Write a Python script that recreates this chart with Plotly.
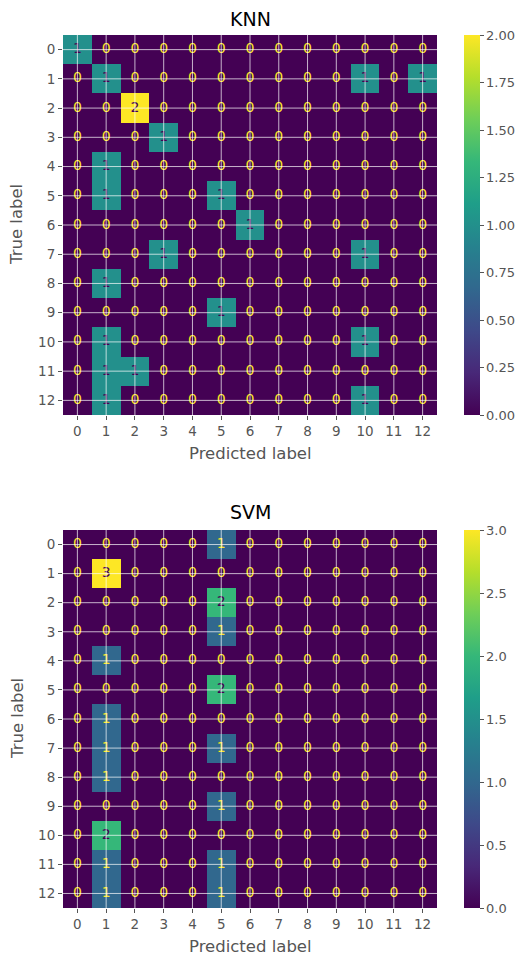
import plotly.graph_objects as go

labels = list(range(13))

knn_cm = [
    [1, 0, 0, 0, 0, 0, 0, 0, 0, 0, 0, 0, 0],
    [0, 1, 0, 0, 0, 0, 0, 0, 0, 0, 1, 0, 1],
    [0, 0, 2, 0, 0, 0, 0, 0, 0, 0, 0, 0, 0],
    [0, 0, 0, 1, 0, 0, 0, 0, 0, 0, 0, 0, 0],
    [0, 1, 0, 0, 0, 0, 0, 0, 0, 0, 0, 0, 0],
    [0, 1, 0, 0, 0, 1, 0, 0, 0, 0, 0, 0, 0],
    [0, 0, 0, 0, 0, 0, 1, 0, 0, 0, 0, 0, 0],
    [0, 0, 0, 1, 0, 0, 0, 0, 0, 0, 1, 0, 0],
    [0, 1, 0, 0, 0, 0, 0, 0, 0, 0, 0, 0, 0],
    [0, 0, 0, 0, 0, 1, 0, 0, 0, 0, 0, 0, 0],
    [0, 1, 0, 0, 0, 0, 0, 0, 0, 0, 1, 0, 0],
    [0, 1, 1, 0, 0, 0, 0, 0, 0, 0, 0, 0, 0],
    [0, 1, 0, 0, 0, 0, 0, 0, 0, 0, 1, 0, 0],
]

svm_cm = [
    [0, 0, 0, 0, 0, 1, 0, 0, 0, 0, 0, 0, 0],
    [0, 3, 0, 0, 0, 0, 0, 0, 0, 0, 0, 0, 0],
    [0, 0, 0, 0, 0, 2, 0, 0, 0, 0, 0, 0, 0],
    [0, 0, 0, 0, 0, 1, 0, 0, 0, 0, 0, 0, 0],
    [0, 1, 0, 0, 0, 0, 0, 0, 0, 0, 0, 0, 0],
    [0, 0, 0, 0, 0, 2, 0, 0, 0, 0, 0, 0, 0],
    [0, 1, 0, 0, 0, 0, 0, 0, 0, 0, 0, 0, 0],
    [0, 1, 0, 0, 0, 1, 0, 0, 0, 0, 0, 0, 0],
    [0, 1, 0, 0, 0, 0, 0, 0, 0, 0, 0, 0, 0],
    [0, 0, 0, 0, 0, 1, 0, 0, 0, 0, 0, 0, 0],
    [0, 2, 0, 0, 0, 0, 0, 0, 0, 0, 0, 0, 0],
    [0, 1, 0, 0, 0, 1, 0, 0, 0, 0, 0, 0, 0],
    [0, 1, 0, 0, 0, 1, 0, 0, 0, 0, 0, 0, 0],
]

knn_cbar_ticks = [0.0, 0.25, 0.5, 0.75, 1.0, 1.25, 1.5, 1.75, 2.0]
svm_cbar_ticks = [0.0, 0.5, 1.0, 1.5, 2.0, 2.5, 3.0]

OFF = 8  # default page body margin
W, H = 531 - OFF, 957 - OFF
FONT = "DejaVu Sans"
GRAY = "#555555"
VIRIDIS_MIN = "#440154"
VIRIDIS_MAX = "#fde725"


def px_x(v):
    return (v - OFF) / W


def px_y(v):
    return 1 - (v - OFF) / H


panels = [
    dict(name="KNN", cm=knn_cm, ticks=knn_cbar_ticks, fmt=".2f",
         top=35, bottom=415, title_y=19, xlabel_y=453, xa="x", ya="y"),
    dict(name="SVM", cm=svm_cm, ticks=svm_cbar_ticks, fmt=".1f",
         top=530, bottom=908, title_y=512, xlabel_y=946, xa="x2", ya="y2"),
]

left_px, right_px = 63, 437
cbar_left = 464
fig = go.Figure()
annotations = []
shapes = []

for p in panels:
    cm = p["cm"]
    zmax = max(max(r) for r in cm)
    zmin = min(min(r) for r in cm)
    thresh = (zmax + zmin) / 2.0
    fig.add_trace(go.Heatmap(
        z=cm, x=labels, y=labels, colorscale="Viridis", zmin=zmin, zmax=zmax,
        xaxis=p["xa"], yaxis=p["ya"], hoverinfo="skip",
        colorbar=dict(
            x=px_x(cbar_left), xanchor="left", xref="paper", xpad=0, ypad=0,
            y=px_y(p["bottom"]), yanchor="bottom",
            len=(p["bottom"] - p["top"]) / H, lenmode="fraction",
            thickness=16, outlinewidth=0,
            tickvals=p["ticks"], tickformat=p["fmt"],
            ticks="outside", ticklen=4, tickcolor=GRAY, tickwidth=1,
            tickfont=dict(family=FONT, size=13, color=GRAY),
        ),
    ))
    xs, ys, ts, cs = [], [], [], []
    for i in labels:
        for j in labels:
            v = cm[i][j]
            xs.append(j)
            ys.append(i)
            ts.append(str(v))
            cs.append(VIRIDIS_MAX if v < thresh else VIRIDIS_MIN)
    fig.add_trace(go.Scatter(
        x=xs, y=ys, text=ts, mode="text", xaxis=p["xa"], yaxis=p["ya"],
        textfont=dict(family=FONT, size=14, color=cs), hoverinfo="skip",
        showlegend=False,
    ))
    # gridlines drawn over the image (ggplot style)
    for t in labels:
        shapes.append(dict(type="line", xref=p["xa"], yref=p["ya"],
                           x0=t, x1=t, y0=-0.5, y1=12.5, layer="above",
                           line=dict(color="rgba(255,255,255,0.7)", width=1)))
        shapes.append(dict(type="line", xref=p["xa"], yref=p["ya"],
                           x0=-0.5, x1=12.5, y0=t, y1=t, layer="above",
                           line=dict(color="rgba(255,255,255,0.7)", width=1)))
    cx = px_x((left_px + right_px) / 2)
    annotations.append(dict(text=p["name"], x=cx, y=px_y(p["title_y"]),
                            xref="paper", yref="paper",
                            showarrow=False, xanchor="center", yanchor="middle",
                            font=dict(family=FONT, size=19, color="black")))
    annotations.append(dict(text="Predicted label", x=cx, y=px_y(p["xlabel_y"]),
                            xref="paper", yref="paper",
                            showarrow=False, xanchor="center", yanchor="middle",
                            font=dict(family=FONT, size=16.5, color=GRAY)))
    annotations.append(dict(text="True label", x=px_x(17),
                            y=px_y((p["top"] + p["bottom"]) / 2),
                            xref="paper", yref="paper",
                            showarrow=False, xanchor="center", yanchor="middle", textangle=-90,
                            font=dict(family=FONT, size=16.5, color=GRAY)))

axis_common = dict(
    tickmode="array", tickvals=labels, ticktext=[str(l) for l in labels],
    ticks="outside", ticklen=4, tickcolor=GRAY, tickwidth=1,
    tickfont=dict(family=FONT, size=13.5, color=GRAY),
    showgrid=False, zeroline=False,
    showline=True, linecolor="rgba(255,255,255,0.6)", linewidth=1, mirror=True,
)

layout = dict(
    width=W, height=H, margin=dict(l=0, r=0, t=0, b=0),
    paper_bgcolor="white", plot_bgcolor="white", showlegend=False,
    annotations=annotations, shapes=shapes,
)
for p in panels:
    xk = "xaxis" + p["xa"][1:]
    yk = "yaxis" + p["ya"][1:]
    layout[xk] = dict(axis_common, domain=[px_x(left_px), px_x(right_px)],
                      range=[-0.5, 12.5], anchor=p["ya"])
    layout[yk] = dict(axis_common, domain=[px_y(p["bottom"]), px_y(p["top"])],
                      range=[12.5, -0.5], anchor=p["xa"])

fig.update_layout(**layout)
fig.write_html("out.html")
